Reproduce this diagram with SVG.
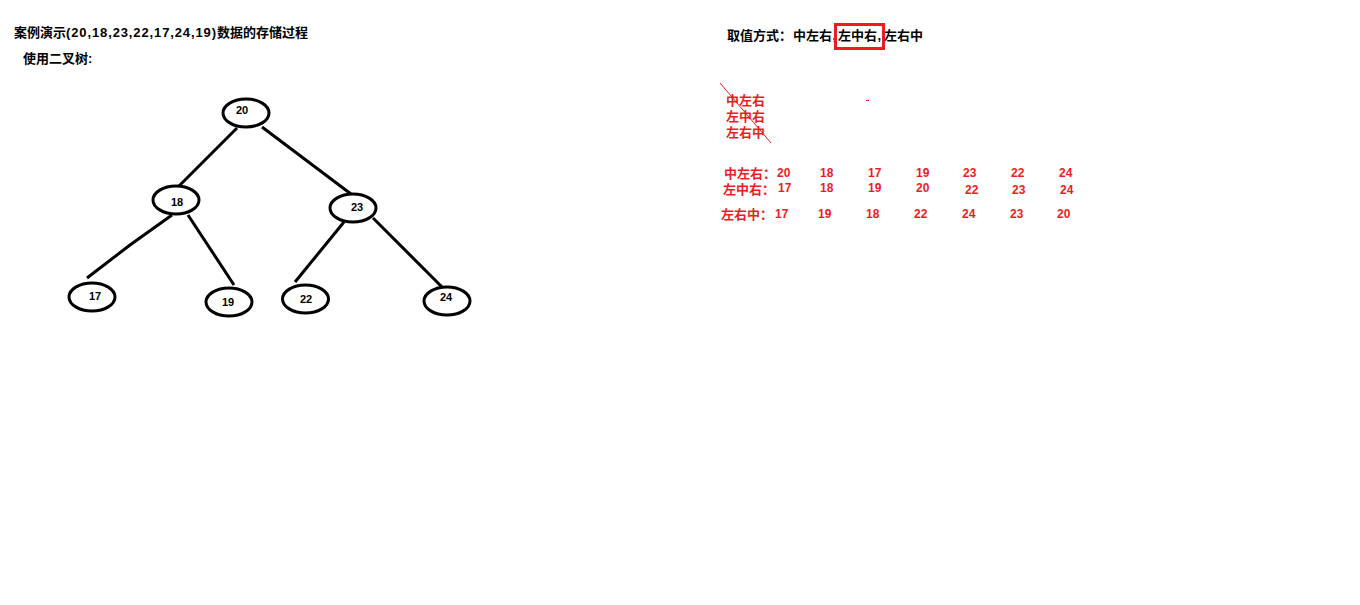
<svg xmlns="http://www.w3.org/2000/svg" width="1360" height="605" viewBox="0 0 1360 605">
<style>
text{font-family:"Liberation Sans","Noto Sans CJK SC",sans-serif;font-weight:bold}
.t{font-size:13px;fill:#000}
.n{font-size:11px;fill:#000;text-anchor:middle}
.r{font-size:13px;fill:#ed1c24}
.d{font-size:12px;fill:#ed1c24}
.node ellipse{fill:#fff;stroke:#000;stroke-width:3}
.edge{stroke:#000;stroke-width:3;fill:none}
</style>
<rect width="1360" height="605" fill="#fff"/>
<text class="t" y="37"><tspan x="14">案例演示</tspan><tspan x="66" textLength="150" lengthAdjust="spacing">(20,18,23,22,17,24,19)</tspan><tspan x="217">数据的存储过程</tspan></text>
<text class="t" x="23" y="63">使用二叉树:</text>
<g id="connectors">
<line class="edge" x1="237" y1="128" x2="178" y2="187"/>
<line class="edge" x1="262" y1="127" x2="351" y2="194"/>
<polyline class="edge" points="172,215 130,245 87,278"/>
<line class="edge" x1="188" y1="215" x2="234" y2="285"/>
<line class="edge" x1="344" y1="222" x2="295" y2="282"/>
<line class="edge" x1="373" y1="218" x2="442" y2="287"/>
</g>
<g id="node-20" class="node"><ellipse cx="246" cy="113" rx="23" ry="14"/><text class="n" x="242" y="114">20</text></g>
<g id="node-18" class="node"><ellipse cx="176" cy="200" rx="23" ry="14"/><text class="n" x="177" y="206">18</text></g>
<g id="node-23" class="node"><ellipse cx="353" cy="208" rx="23" ry="14"/><text class="n" x="357" y="211">23</text></g>
<g id="node-17" class="node"><ellipse cx="92" cy="297" rx="23" ry="14"/><text class="n" x="95" y="300">17</text></g>
<g id="node-19" class="node"><ellipse cx="229" cy="302" rx="23" ry="14"/><text class="n" x="228" y="306">19</text></g>
<g id="node-22" class="node"><ellipse cx="305.5" cy="299" rx="23" ry="14"/><text class="n" x="306" y="303">22</text></g>
<g id="node-24" class="node"><ellipse cx="447" cy="301" rx="23" ry="14"/><text class="n" x="446" y="301">24</text></g>
<text class="t" x="727" y="40"><tspan>取值方式：</tspan><tspan x="793">中左右</tspan><tspan x="832.5">,</tspan><tspan x="838">左中右</tspan><tspan x="877.5">,</tspan><tspan x="884">左右中</tspan></text>
<rect x="835.5" y="24.5" width="48" height="24" fill="none" stroke="#ed1c24" stroke-width="3"/>
<text class="r" x="726" y="105">中左右</text>
<text class="r" x="726" y="121">左中右</text>
<text class="r" x="726" y="137">左右中</text>
<line x1="720" y1="83" x2="771" y2="143" stroke="#ed1c24" stroke-width="1"/>
<line x1="866" y1="100.5" x2="869" y2="100.5" stroke="#ed1c24" stroke-width="1"/>
<g class="d">
<text x="724" y="178" class="r">中左右：</text>
<text x="777" y="177">20</text><text x="820" y="177">18</text><text x="868" y="177">17</text><text x="916" y="177">19</text><text x="963" y="177">23</text><text x="1011" y="177">22</text><text x="1059" y="177">24</text>
<text x="723" y="194" class="r">左中右：</text>
<text x="778" y="192">17</text><text x="820" y="192">18</text><text x="868" y="192">19</text><text x="916" y="192">20</text><text x="965" y="194">22</text><text x="1012" y="194">23</text><text x="1060" y="194">24</text>
<text x="721" y="219" class="r">左右中：</text>
<text x="775" y="218">17</text><text x="818" y="218">19</text><text x="866" y="218">18</text><text x="914" y="218">22</text><text x="962" y="218">24</text><text x="1010" y="218">23</text><text x="1057" y="218">20</text>
</g>
</svg>
